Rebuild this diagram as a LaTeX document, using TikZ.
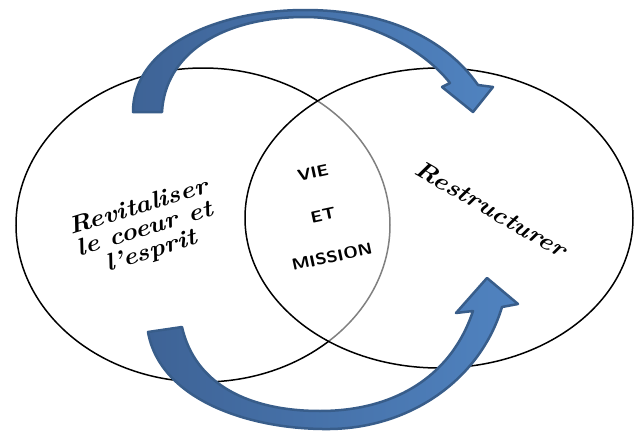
\documentclass[tikz,border=0pt]{standalone}
\usepackage{graphicx}
\definecolor{arrowdark}{HTML}{3E6396}
\definecolor{arrowlight}{HTML}{5083C0}
\definecolor{arrowedge}{HTML}{385D8A}
\begin{document}
\begin{tikzpicture}[x=1pt,y=-1pt,
  ring/.style={line width=1.5pt},
  bentarrow/.style={left color=arrowdark, right color=arrowlight, draw=arrowedge, line width=2.5pt, line join=round},
  script/.style={font=\fontsize{24}{23}\selectfont\bfseries\itshape, align=center, inner sep=0pt},
  caps/.style={font=\fontsize{16}{16}\selectfont\sffamily\bfseries, inner sep=0pt}]
\useasboundingbox (0,0) rectangle (641,431);
\fill[white] (0,0) rectangle (641,431);
% left ellipse: black outside the right one, grey inside it
\begin{scope}[even odd rule]
\clip (-10,-10) rectangle (651,441) (439,218) ellipse [x radius=194pt, y radius=150pt];
\draw[ring] (203,225) ellipse [x radius=187pt, y radius=157pt];
\end{scope}
\begin{scope}
\clip (439,218) ellipse [x radius=194pt, y radius=150pt];
\draw[ring, gray] (203,225) ellipse [x radius=187pt, y radius=157pt];
\end{scope}
\draw[ring] (439,218) ellipse [x radius=194pt, y radius=150pt];
% top curved arrow
\draw[bentarrow] (133,112) .. controls (133,45) and (220,10) .. (305,10)
  .. controls (385,10) and (445,38) .. (478,85) -- (493,87) -- (473,112) -- (442,87) -- (450,83)
  .. controls (420,45) and (360,17) .. (305,17)
  .. controls (220,17) and (165,55) .. (162,112) -- cycle;
% bottom curved arrow
\draw[bentarrow] (148,332) .. controls (160,400) and (250,430) .. (330,429)
  .. controls (410,428) and (480,380) .. (502,307) -- (518,304) -- (487,278) -- (456,313) -- (473,311)
  .. controls (450,380) and (390,411) .. (320,411)
  .. controls (250,411) and (195,385) .. (182,327) -- cycle;
% texts
\node[script, rotate=17] (rev) at (145,230) {\scalebox{1.12}[1]{Revitaliser}\\\scalebox{1.12}[1]{le coeur et}\\\scalebox{1.12}[1]{l'esprit}};
\node[script, rotate=-30] (res) at (491,209) {\scalebox{1.12}[1]{Restructurer}};
\node[caps, rotate=12] (vie) at (313,173) {\scalebox{1.15}[1]{VIE}};
\node[caps, rotate=12] (et) at (323,215) {\scalebox{1.15}[1]{ET}};
\node[caps, rotate=12] (mission) at (332,257) {\scalebox{1.15}[1]{MISSION}};
\end{tikzpicture}
\end{document}
